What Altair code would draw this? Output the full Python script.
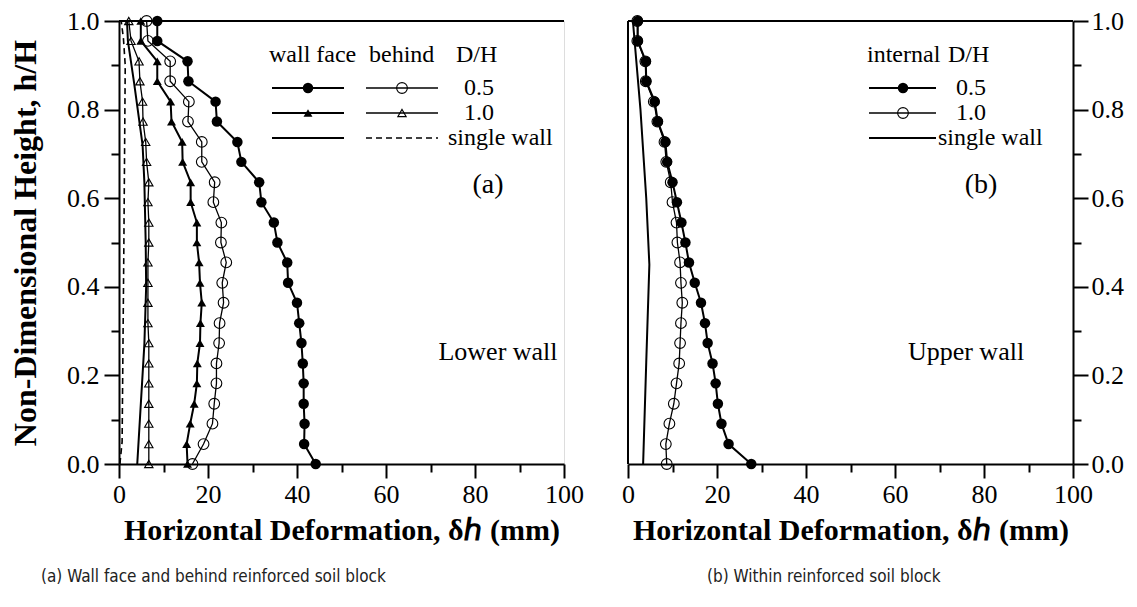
import altair as alt
import pandas as pd

# ---------------- data ----------------
H = [0.000, 0.045, 0.091, 0.136, 0.182, 0.227, 0.273, 0.318, 0.364, 0.409, 0.455,
     0.500, 0.545, 0.591, 0.636, 0.682, 0.727, 0.773, 0.818, 0.864, 0.909, 0.955, 1.000]

# (a) lower wall
wall_face_05 = [44.2, 41.6, 41.7, 41.5, 41.5, 41.3, 41.0, 40.5, 40.0, 38.0, 37.8, 35.6,
                34.8, 32.0, 31.5, 27.5, 26.6, 22.0, 21.7, 15.6, 15.4, 8.6, 8.6]
behind_05 = [16.5, 19.0, 21.0, 21.4, 21.9, 21.9, 22.5, 22.6, 23.5, 23.2, 24.1, 22.9,
             23.0, 21.2, 21.5, 18.6, 18.6, 15.5, 15.7, 11.5, 11.5, 6.5, 6.2]
wall_face_10 = [15.4, 15.2, 16.0, 16.9, 17.5, 17.6, 18.2, 18.3, 18.6, 18.2, 18.0, 17.5,
                17.5, 16.1, 16.1, 14.3, 14.2, 11.8, 11.6, 8.6, 8.6, 4.9, 4.9]
behind_10 = [6.7, 6.7, 6.7, 6.7, 6.7, 6.7, 6.7, 6.5, 6.5, 6.5, 6.5, 6.7,
             6.7, 6.5, 6.7, 6.2, 6.0, 5.4, 5.3, 4.7, 4.5, 2.7, 2.2]
single_face_h = [0.0, 0.27, 0.40, 0.50, 0.636, 0.72, 0.86, 0.955, 1.0]
single_face_x = [4.1, 5.7, 6.1, 6.0, 5.7, 5.3, 3.4, 2.0, 1.8]
single_behind_h = [0.0, 0.05, 0.5, 0.9, 0.96, 1.0]
single_behind_x = [0.2, 0.7, 1.1, 1.4, 1.0, 0.5]

# (b) upper wall
internal_05 = [27.7, 22.6, 21.0, 20.2, 19.7, 19.0, 17.9, 17.3, 16.4, 15.0, 13.7, 12.9,
               12.0, 11.0, 10.0, 8.8, 8.4, 6.7, 6.0, 4.1, 4.0, 2.2, 2.2]
internal_10 = [8.7, 8.5, 9.3, 10.3, 10.9, 11.5, 11.7, 11.9, 12.2, 11.9, 11.7, 11.1,
               10.9, 10.0, 9.6, 8.6, 8.2, 6.6, 5.8, 4.0, 3.9, 2.1, 2.1]
single_int_h = [0.0, 0.23, 0.45, 0.6, 0.8, 1.0]
single_int_x = [3.4, 4.1, 4.8, 4.1, 2.8, 1.1]

x_ticks = [0, 10, 20, 30, 40, 50, 60, 70, 80, 90, 100]
y_ticks = [0.0, 0.1, 0.2, 0.3, 0.4, 0.5, 0.6, 0.7, 0.8, 0.9, 1.0]

legend_rows = ["0.5", "1.0", "single wall"]
x_title = "Horizontal Deformation, δℎ (mm)"
y_title = "Non-Dimensional Height, h/H"

# ---------------- styling ----------------
W, HT = 445, 443
SERIF = "Liberation Serif"
SANS_N = "Liberation Sans Narrow, DejaVu Sans Condensed, Arial Narrow, sans-serif"

xscale = alt.Scale(domain=[0, 100], nice=False, zero=False)
yscale = alt.Scale(domain=[0, 1], nice=False, zero=False)


def x_axis():
    return alt.Axis(
        values=x_ticks, grid=False,
        labelExpr="datum.value % 20 == 0 ? datum.label : ''",
        tickSize={"condition": {"test": "datum.value % 20 == 0", "value": 14}, "value": 8},
        tickWidth=2, tickColor="black", domainColor="black", domainWidth=2,
        labelFont=SERIF, labelFontSize=26, labelColor="black", labelPadding=3,
        labelFlush=False, labelOverlap=False,
        title=x_title, titleFont=SERIF, titleFontSize=30, titleFontWeight="bold",
        titleColor="black", titlePadding=8,
    )


def y_axis(orient):
    kw = dict(
        values=y_ticks, grid=False, orient=orient,
        labelExpr="round(datum.value*10) % 2 == 0 ? format(datum.value, '.1f') : ''",
        tickSize={"condition": {"test": "round(datum.value*10) % 2 == 0", "value": 15}, "value": 8},
        tickWidth=2, tickColor="black", domainColor="black", domainWidth=2,
        labelFont=SERIF, labelFontSize=26, labelColor="black",
        labelPadding=5 if orient == "left" else 3,
        labelFlush=False, labelOverlap=False,
    )
    if orient == "left":
        kw.update(title=y_title, titleFont=SERIF, titleFontSize=32, titleFontWeight="bold",
                  titleColor="black", titlePadding=24)
    else:
        kw.update(title=None)
    return alt.Axis(**kw)


def enc(orient):
    return dict(
        x=alt.X("x:Q", scale=xscale, axis=x_axis()),
        y=alt.Y("h:Q", scale=yscale, axis=y_axis(orient)),
        order=alt.Order("h:Q"),
    )


def series(xs, hs, orient, sw=2.0, dash=None, shape=None, filled=True, size=90):
    df = pd.DataFrame({"x": xs, "h": hs})
    base = alt.Chart(df).encode(**enc(orient))
    lk = dict(color="black", strokeWidth=sw)
    if dash:
        lk["strokeDash"] = dash
    layers = [base.mark_line(**lk)]
    if shape:
        layers.append(base.mark_point(shape=shape, filled=filled, size=size, color="black",
                                      opacity=1, strokeWidth=1.1))
    return layers


one = pd.DataFrame({"a": [0]})


def text(t, x, y, size=24, align="left", font=SERIF, color="black"):
    return alt.Chart(one).mark_text(text=t, align=align, baseline="middle", font=font,
                                    fontSize=size, color=color).encode(
        x=alt.value(x), y=alt.value(y))


def hline(x1, x2, y, sw=2, dash=None):
    kw = dict(color="black", strokeWidth=sw)
    if dash:
        kw["strokeDash"] = dash
    return alt.Chart(one).mark_rule(**kw).encode(x=alt.value(x1), x2=alt.value(x2), y=alt.value(y))


def vline(x, y1, y2, sw=2):
    return alt.Chart(one).mark_rule(color="black", strokeWidth=sw).encode(
        x=alt.value(x), y=alt.value(y1), y2=alt.value(y2))


def sym(x, y, shape, filled, size):
    return alt.Chart(one).mark_point(shape=shape, filled=filled, size=size, color="black",
                                     opacity=1, strokeWidth=1.1).encode(
        x=alt.value(x), y=alt.value(y))


# ---------------- panel (a) ----------------
a_layers = []
a_layers += series(single_behind_x, single_behind_h, "left", sw=1.6, dash=[6, 4])
a_layers += series(single_face_x, single_face_h, "left", sw=2.0)
a_layers += series(behind_10, H, "left", sw=1.3, shape="triangle-up", filled=False, size=70)
a_layers += series(wall_face_10, H, "left", sw=2.0, shape="triangle-up", filled=True, size=80)
a_layers += series(behind_05, H, "left", sw=1.3, shape="circle", filled=False, size=115)
a_layers += series(wall_face_05, H, "left", sw=2.0, shape="circle", filled=True, size=110)
a_layers.append(hline(0, W, 0))

ry = [67, 92, 117]
a_layers += [text("wall face", 150, 34), text("behind", 250, 34), text("D/H", 337, 34)]
a_shapes = [("circle", 110, 115), ("triangle-up", 80, 70)]
for i, lab in enumerate(legend_rows):
    a_layers.append(hline(153, 225, ry[i], sw=2))
    a_layers.append(hline(247, 319, ry[i], sw=1.6 if i == 2 else 1.3,
                          dash=[6, 4] if i == 2 else None))
    if i < 2:
        shp, s1, s2 = a_shapes[i]
        a_layers.append(sym(189, ry[i], shp, True, s1))
        a_layers.append(sym(283, ry[i], shp, False, s2))
    a_layers.append(text(lab, 345 if i < 2 else 329, ry[i]))
a_layers.append(text("(a)", 369, 164, size=28, align="center"))
a_layers.append(text("Lower wall", 379, 331, size=26, align="center"))
a_layers.append(text("(a) Wall face and behind reinforced soil block", -78, 556,
                     size=17, font=SANS_N, color="#222"))

panel_a = alt.layer(*a_layers).properties(width=W, height=HT)

# ---------------- panel (b) ----------------
b_layers = []
b_layers += series(single_int_x, single_int_h, "right", sw=2.0)
b_layers += series(internal_10, H, "right", sw=1.3, shape="circle", filled=False, size=115)
b_layers += series(internal_05, H, "right", sw=2.0, shape="circle", filled=True, size=110)
b_layers.append(hline(0, W, 0))
b_layers.append(vline(0, 0, HT))
b_layers += [text("internal", 239, 34), text("D/H", 320, 34)]
for i, lab in enumerate(legend_rows):
    b_layers.append(hline(241, 308, ry[i], sw=2 if i != 1 else 1.3))
    if i == 0:
        b_layers.append(sym(275, ry[i], "circle", True, 110))
    elif i == 1:
        b_layers.append(sym(275, ry[i], "circle", False, 115))
    b_layers.append(text(lab, 328 if i < 2 else 310, ry[i]))
b_layers.append(text("(b)", 353, 164, size=28, align="center"))
b_layers.append(text("Upper wall", 338, 331, size=26, align="center"))
b_layers.append(text("(b) Within reinforced soil block", 79, 556,
                     size=17, font=SANS_N, color="#222"))

panel_b = alt.layer(*b_layers).properties(width=W, height=HT)

chart = alt.hconcat(panel_a, panel_b, spacing=64, bounds="flush").configure_view(
    stroke=None
).configure(background="white").properties(
    padding={"left": 9, "top": 7, "right": 5, "bottom": 5}
)

chart.save("out.html", embed_options={"renderer": "svg", "actions": False})
